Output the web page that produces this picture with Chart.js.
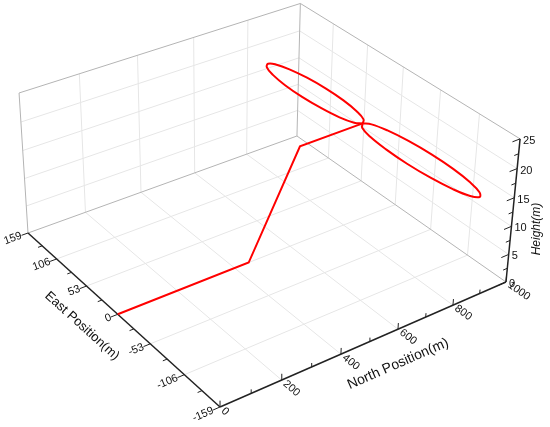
<!DOCTYPE html>
<html>
<head>
<meta charset="utf-8">
<script src="https://cdn.jsdelivr.net/npm/chart.js@4.4.0/dist/chart.umd.min.js"></script>
<style>
html, body { margin: 0; padding: 0; background: #fff; }
#wrap { width: 550px; height: 427px; }
</style>
</head>
<body>
<div id="wrap"><canvas id="chart" width="550" height="427"></canvas></div>
<script>
'use strict'

// axis ticks
var northTicks = [0, 200, 400, 600, 800, 1000];
var eastTicks = [159, 106, 53, 0, -53, -106, -159];
var heightTicks = [0, 5, 10, 15, 20, 25];

// flight path, straight legs (m)
var legNorth = [0, 450, 627, 856];
var legEast = [0, 0, 0, 0];
var legHeight = [0, 0, 17.5, 17.5];

// figure-eight loiter (m)
var loopNorth = [856, 873, 886, 894, 895, 889, 877, 861, 844, 827, 814, 806, 805, 811, 822, 838, 856,
                 874, 890, 902, 908, 907, 899, 886, 870, 852, 836, 824, 818, 819, 826, 839, 856];
var loopEast = [0, 5.5, 21.1, 44.4, 72, 99.6, 122.9, 138.5, 144, 138.5, 122.9, 99.6, 72, 44.4, 21.1, 5.5, 0,
                -6, -23.1, -48.8, -79, -109.2, -134.9, -152, -158, -152, -134.9, -109.2, -79, -48.8, -23.1, -6, 0];
var loopHeight = [17.5, 17.5, 17.5, 17.5, 17.5, 17.5, 17.5, 17.5, 17.5, 17.5, 17.5, 17.5, 17.5, 17.5, 17.5, 17.5, 17.5,
                  17.5, 17.5, 17.5, 17.5, 17.5, 17.5, 17.5, 17.5, 17.5, 17.5, 17.5, 17.5, 17.5, 17.5, 17.5, 17.5];

var nMax = 1000, eMax = 159, hMax = 25;

// perspective camera for the box: u = north, v = east (159 -> -159), w = height
function proj(n, e, h) {
  var u = n / nMax, v = (eMax - e) / (2 * eMax), w = h / hMax;
  var d = 1 + 0.0867 * u - 0.1228 * v - 0.045 * w;
  return {
    x: (28 + 294.7 * u + 165.0 * v - 9.8 * w) / d,
    y: (233 - 85.2 * u + 124.0 * v - 144.2 * w) / d
  };
}

var datasets = [];

function addLine(pts, color, width, tension) {
  datasets.push({
    data: pts.map(function(p) { return proj(p[0], p[1], p[2]); }),
    showLine: true,
    borderColor: color,
    borderWidth: width,
    pointRadius: 0,
    tension: tension || 0,
    fill: false
  });
}

// path first so it is drawn on top
addLine(legNorth.map(function(n, i) { return [n, legEast[i], legHeight[i]]; }), '#ff0000', 2);
addLine(loopNorth.map(function(n, i) { return [n, loopEast[i], loopHeight[i]]; }), '#ff0000', 2, 0.4);

// axes
var axisColor = '#222';
addLine([[0, eMax, 0], [0, -eMax, 0]], axisColor, 1.5);
addLine([[0, -eMax, 0], [nMax, -eMax, 0]], axisColor, 1.5);
addLine([[nMax, -eMax, 0], [nMax, -eMax, hMax]], axisColor, 1.5);

// ticks
eastTicks.forEach(function(e, i) {
  addLine([[0, e, 0], [-22, e, 0]], axisColor, 1);
  if (i < eastTicks.length - 1) {
    var m = (e + eastTicks[i + 1]) / 2;
    addLine([[0, m, 0], [-14, m, 0]], axisColor, 1);
  }
});
northTicks.forEach(function(n, i) {
  addLine([[n, -eMax, 0], [n, -eMax, 1.1]], axisColor, 1);
  if (i < northTicks.length - 1) {
    var m = (n + northTicks[i + 1]) / 2;
    addLine([[m, -eMax, 0], [m, -eMax, 0.7]], axisColor, 1);
  }
});
heightTicks.forEach(function(h, i) {
  addLine([[nMax, -eMax, h], [nMax - 28, -eMax, h]], axisColor, 1);
  if (i < heightTicks.length - 1) {
    var m = (h + heightTicks[i + 1]) / 2;
    addLine([[nMax, -eMax, m], [nMax - 16, -eMax, m]], axisColor, 1);
  }
});

// box edges
var edgeColor = '#b4b4b4';
addLine([[0, eMax, 0], [0, eMax, hMax]], edgeColor, 1);
addLine([[0, eMax, hMax], [nMax, eMax, hMax]], edgeColor, 1);
addLine([[nMax, eMax, hMax], [nMax, -eMax, hMax]], edgeColor, 1);
addLine([[nMax, eMax, 0], [nMax, eMax, hMax]], edgeColor, 1);
addLine([[0, eMax, 0], [nMax, eMax, 0]], edgeColor, 1);
addLine([[nMax, eMax, 0], [nMax, -eMax, 0]], edgeColor, 1);

// grid
var gridColor = '#e6e6e6';
northTicks.slice(1, -1).forEach(function(n) {
  addLine([[n, eMax, 0], [n, -eMax, 0]], gridColor, 1);
  addLine([[n, eMax, 0], [n, eMax, hMax]], gridColor, 1);
});
eastTicks.slice(1, -1).forEach(function(e) {
  addLine([[0, e, 0], [nMax, e, 0]], gridColor, 1);
  addLine([[nMax, e, 0], [nMax, e, hMax]], gridColor, 1);
});
heightTicks.slice(1, -1).forEach(function(h) {
  addLine([[0, eMax, h], [nMax, eMax, h]], gridColor, 1);
  addLine([[nMax, eMax, h], [nMax, -eMax, h]], gridColor, 1);
});

var labels3d = {
  id: 'labels3d',
  afterDatasetsDraw: function(chart) {
    var ctx = chart.ctx;
    var sx = chart.scales.x, sy = chart.scales.y;
    function px(p) { return { x: sx.getPixelForValue(p.x), y: sy.getPixelForValue(p.y) }; }
    function dirAngle(a, b) {
      var pa = px(a), pb = px(b);
      return Math.atan2(pb.y - pa.y, pb.x - pa.x);
    }
    function text(str, p, ang, align, font) {
      ctx.save();
      ctx.translate(p.x, p.y);
      ctx.rotate(ang);
      ctx.font = font;
      ctx.fillStyle = '#111';
      ctx.textAlign = align;
      ctx.textBaseline = 'middle';
      ctx.fillText(str, 0, 0);
      ctx.restore();
    }
    var tickFont = '11px "Liberation Sans", Arial, sans-serif';

    eastTicks.forEach(function(e) {
      var ang = dirAngle(proj(0, e, 0), proj(100, e, 0));
      text(String(e), px(proj(-22, e, 0)), ang, 'right', tickFont);
    });
    northTicks.forEach(function(n) {
      var ang = dirAngle(proj(n, -eMax, 0), proj(n, -eMax - 40, 0));
      text(String(n), px(proj(n, -eMax - 4, 0)), ang, 'left', tickFont);
    });
    heightTicks.forEach(function(h) {
      var p = px(proj(nMax, -eMax, h));
      text(String(h), { x: p.x + 3, y: p.y + 2 }, 0, 'left', tickFont);
    });

    var titleFont = '13px "Liberation Sans", Arial, sans-serif';
    text('East Position(m)', { x: 82, y: 326 }, dirAngle(proj(0, eMax, 0), proj(0, -eMax, 0)), 'center', titleFont);
    text('North Position(m)', { x: 398, y: 364 }, dirAngle(proj(0, -eMax, 0), proj(nMax, -eMax, 0)), 'center', '14px "Liberation Sans", Arial, sans-serif');
    text('Height(m)', { x: 537, y: 229 }, -Math.PI / 2, 'center', 'italic 12px "Liberation Sans", Arial, sans-serif');
  }
};

new Chart(document.getElementById('chart').getContext('2d'), {
  type: 'scatter',
  data: { datasets: datasets },
  options: {
    responsive: false,
    animation: false,
    layout: { padding: 0 },
    plugins: { legend: { display: false }, tooltip: { enabled: false } },
    scales: {
      x: { type: 'linear', min: 0, max: 550, display: false },
      y: { type: 'linear', min: 0, max: 427, reverse: true, display: false }
    }
  },
  plugins: [labels3d]
});
</script>
</body>
</html>
